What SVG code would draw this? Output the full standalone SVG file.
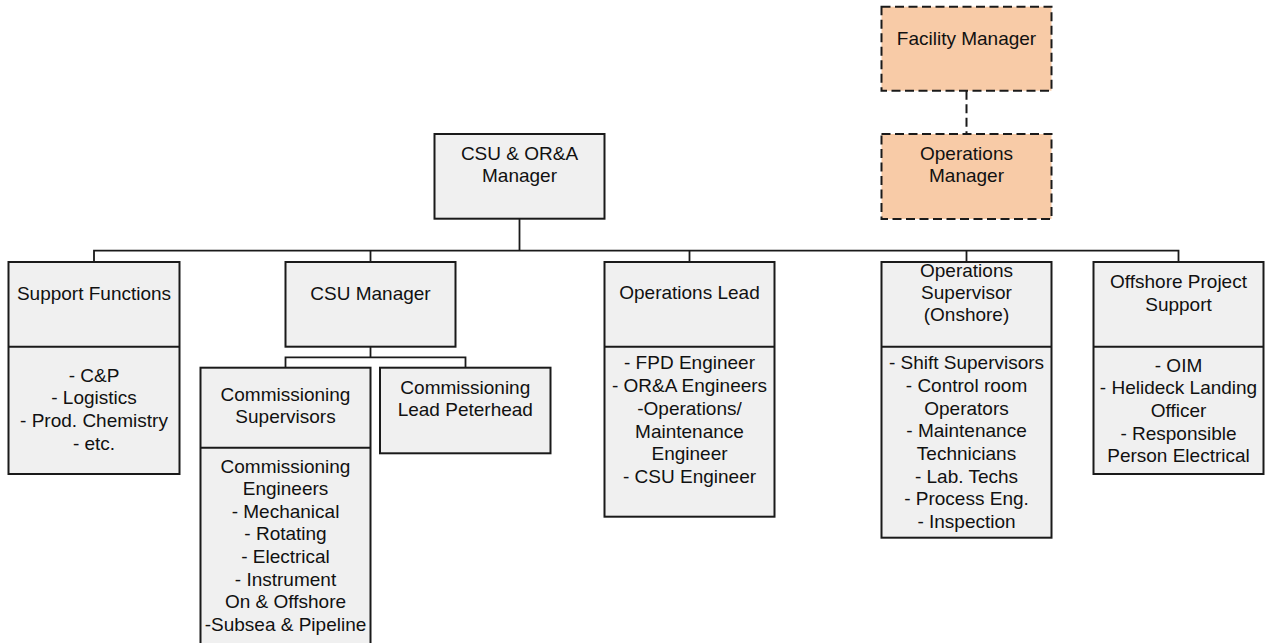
<svg xmlns="http://www.w3.org/2000/svg" width="1265" height="643" viewBox="0 0 1265 643">
  <style>
    .box { fill: #f0f0f0; stroke: #1a1a1a; stroke-width: 2; }
    .ext { fill: #f8cba7; stroke: #1a1a1a; stroke-width: 2; stroke-dasharray: 9 4.5; }
    .div { stroke: #1a1a1a; stroke-width: 2; fill: none; }
    .wire { stroke: #1a1a1a; stroke-width: 1.8; fill: none; }
    .dash { stroke: #1a1a1a; stroke-width: 2; fill: none; stroke-dasharray: 9 4.5; }
    text { font-family: "Liberation Sans", Arial, sans-serif; font-size: 19px; fill: #111; text-anchor: middle; }
  </style>
  <rect width="1265" height="643" fill="#ffffff"/>

  <!-- reporting lines -->
  <g id="connectors">
    <path class="dash" d="M966.5 90.7 V134"/>
    <path class="wire" d="M519.5 218.7 V250.7"/>
    <path class="wire" d="M94 262 V250.7 H1178.5 V262"/>
    <path class="wire" d="M370.5 250.7 V262"/>
    <path class="wire" d="M689.5 250.7 V262"/>
    <path class="wire" d="M966.5 250.7 V262"/>
    <path class="wire" d="M370.5 346.7 V357.3"/>
    <path class="wire" d="M285.5 367.7 V357.3 H465.5 V367.7"/>
  </g>

  <g id="facility-manager">
    <rect class="ext" x="881.5" y="6.7" width="170" height="84"/>
    <text x="966.5" y="45">Facility Manager</text>
  </g>

  <g id="operations-manager">
    <rect class="ext" x="881.5" y="134" width="170" height="85"/>
    <text x="966.5" y="159.5">Operations</text>
    <text x="966.5" y="182">Manager</text>
  </g>

  <g id="csu-ora-manager">
    <rect class="box" x="434.5" y="134" width="170" height="84.7"/>
    <text x="519.5" y="159.5">CSU &amp; OR&amp;A</text>
    <text x="519.5" y="182">Manager</text>
  </g>

  <g id="support-functions">
    <rect class="box" x="8.5" y="262" width="171" height="212"/>
    <path class="div" d="M8.5 346.7 H179.5"/>
    <text x="94" y="300">Support Functions</text>
    <text x="94" y="381.5">- C&amp;P</text>
    <text x="94" y="404.2">- Logistics</text>
    <text x="94" y="426.9">- Prod. Chemistry</text>
    <text x="94" y="449.6">- etc.</text>
  </g>

  <g id="csu-manager">
    <rect class="box" x="285.5" y="262" width="170" height="84.7"/>
    <text x="370.5" y="300">CSU Manager</text>
  </g>

  <g id="commissioning-supervisors">
    <rect class="box" x="200.5" y="367.7" width="170" height="290"/>
    <path class="div" d="M200.5 447.7 H370.5"/>
    <text x="285.5" y="400.5">Commissioning</text>
    <text x="285.5" y="423">Supervisors</text>
    <text x="285.5" y="472.5">Commissioning</text>
    <text x="285.5" y="495.1">Engineers</text>
    <text x="285.5" y="517.7">- Mechanical</text>
    <text x="285.5" y="540.3">- Rotating</text>
    <text x="285.5" y="562.9">- Electrical</text>
    <text x="285.5" y="585.5">- Instrument</text>
    <text x="285.5" y="608.1">On &amp; Offshore</text>
    <text x="285.5" y="630.7">-Subsea &amp; Pipeline</text>
  </g>

  <g id="commissioning-lead-peterhead">
    <rect class="box" x="380" y="367.7" width="170.5" height="85.6"/>
    <text x="465.3" y="393.5">Commissioning</text>
    <text x="465.3" y="416">Lead Peterhead</text>
  </g>

  <g id="operations-lead">
    <rect class="box" x="604.5" y="262" width="170" height="254.7"/>
    <path class="div" d="M604.5 346.7 H774.5"/>
    <text x="689.5" y="299">Operations Lead</text>
    <text x="689.5" y="369.2">- FPD Engineer</text>
    <text x="689.5" y="392">- OR&amp;A Engineers</text>
    <text x="689.5" y="414.8">-Operations/</text>
    <text x="689.5" y="437.6">Maintenance</text>
    <text x="689.5" y="460.4">Engineer</text>
    <text x="689.5" y="483.2">- CSU Engineer</text>
  </g>

  <g id="operations-supervisor">
    <rect class="box" x="881.5" y="262" width="170" height="275.7"/>
    <path class="div" d="M881.5 346.7 H1051.5"/>
    <text x="966.5" y="276.5">Operations</text>
    <text x="966.5" y="299">Supervisor</text>
    <text x="966.5" y="321">(Onshore)</text>
    <text x="966.5" y="369.2">- Shift Supervisors</text>
    <text x="966.5" y="391.9">- Control room</text>
    <text x="966.5" y="414.6">Operators</text>
    <text x="966.5" y="437.3">- Maintenance</text>
    <text x="966.5" y="460">Technicians</text>
    <text x="966.5" y="482.7">- Lab. Techs</text>
    <text x="966.5" y="505.4">- Process Eng.</text>
    <text x="966.5" y="528">- Inspection</text>
  </g>

  <g id="offshore-project-support">
    <rect class="box" x="1093.5" y="262" width="170" height="212"/>
    <path class="div" d="M1093.5 346.7 H1263.5"/>
    <text x="1178.5" y="288">Offshore Project</text>
    <text x="1178.5" y="310.5">Support</text>
    <text x="1178.5" y="371.5">- OIM</text>
    <text x="1178.5" y="394.2">- Helideck Landing</text>
    <text x="1178.5" y="416.9">Officer</text>
    <text x="1178.5" y="439.6">- Responsible</text>
    <text x="1178.5" y="462.3">Person Electrical</text>
  </g>
</svg>
